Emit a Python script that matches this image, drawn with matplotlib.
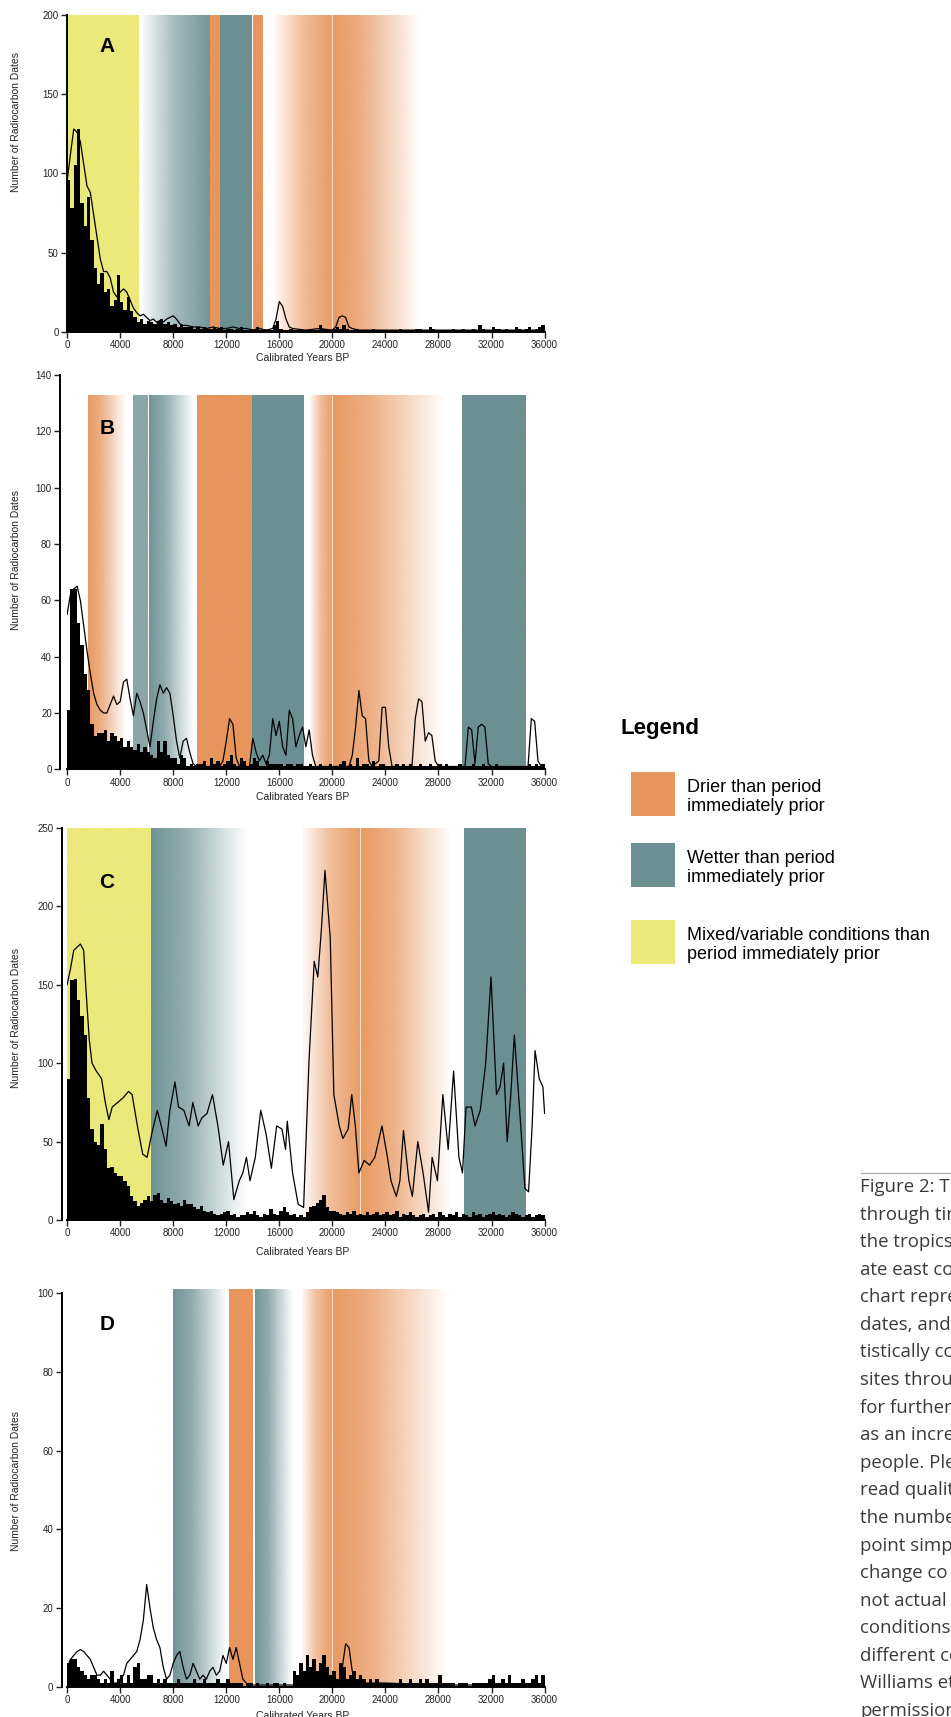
import numpy as np
import matplotlib
matplotlib.use('Agg')
import matplotlib.pyplot as plt
from matplotlib.colors import to_rgb
from matplotlib.patches import Rectangle
from matplotlib.lines import Line2D

plt.rcParams['font.family'] = ['Liberation Sans', 'DejaVu Sans']

# ---- data: 250-year bins, 0 - 36000 cal BP (16 bins per row = 4000 years)
bin_width = 250
bars_a = [96, 78, 105, 128, 81, 67, 85, 58, 40, 30, 37, 25, 27, 16, 20, 36,
          19, 14, 22, 13, 9, 6, 8, 5, 7, 6, 5, 7, 8, 5, 6, 4,
          5, 3, 4, 3, 3, 3, 2, 3, 2, 3, 2, 2, 3, 2, 3, 1,
          2, 2, 1, 2, 3, 1, 1, 2, 1, 3, 1, 2, 1, 1, 4, 7,
          2, 1, 1, 2, 1, 1, 1, 1, 1, 2, 1, 1, 4, 2, 2, 1,
          2, 3, 2, 4, 2, 1, 1, 2, 1, 1, 1, 1, 2, 1, 1, 1,
          1, 1, 1, 1, 2, 1, 1, 1, 1, 2, 2, 1, 1, 3, 2, 1,
          1, 1, 1, 1, 2, 1, 1, 2, 1, 1, 2, 1, 4, 2, 1, 1,
          3, 2, 2, 1, 2, 1, 1, 3, 2, 1, 2, 3, 1, 2, 3, 4]
bars_b = [21, 64, 64, 52, 44, 34, 28, 16, 12, 13, 13, 14, 10, 13, 12, 10,
          11, 8, 10, 8, 7, 9, 6, 8, 6, 5, 4, 10, 6, 10, 5, 4,
          4, 2, 5, 4, 1, 2, 1, 2, 2, 3, 1, 4, 2, 3, 1, 2,
          3, 5, 2, 1, 4, 3, 1, 2, 4, 3, 1, 1, 3, 2, 2, 2,
          2, 1, 2, 2, 1, 2, 2, 1, 1, 2, 1, 1, 2, 1, 1, 2,
          1, 1, 2, 3, 1, 2, 1, 4, 1, 2, 2, 1, 3, 1, 2, 2,
          1, 1, 1, 2, 1, 2, 1, 2, 1, 1, 2, 1, 1, 2, 1, 1,
          2, 1, 2, 1, 1, 1, 2, 1, 1, 1, 2, 1, 1, 2, 1, 1,
          1, 2, 1, 1, 1, 1, 1, 1, 1, 1, 1, 2, 1, 2, 1, 2]
bars_c = [90, 153, 154, 140, 130, 118, 78, 58, 50, 48, 61, 45, 33, 34, 30, 28,
          28, 25, 22, 15, 12, 9, 11, 13, 15, 12, 16, 17, 13, 11, 14, 12,
          10, 11, 9, 13, 10, 10, 8, 7, 9, 6, 5, 6, 4, 3, 4, 5,
          6, 3, 4, 2, 3, 3, 5, 4, 6, 3, 2, 4, 3, 7, 4, 3,
          6, 8, 5, 3, 4, 2, 3, 2, 5, 8, 9, 11, 13, 16, 8, 6,
          6, 5, 4, 3, 5, 4, 6, 3, 4, 3, 5, 3, 4, 5, 3, 4,
          5, 3, 4, 6, 2, 4, 3, 5, 3, 2, 3, 4, 2, 3, 4, 2,
          5, 3, 2, 4, 3, 5, 2, 4, 3, 2, 5, 3, 4, 2, 3, 4,
          5, 3, 4, 3, 2, 3, 5, 4, 3, 2, 3, 4, 2, 3, 4, 3]
bars_d = [6, 7, 7, 5, 4, 3, 2, 3, 3, 2, 1, 2, 1, 4, 1, 2,
          3, 1, 3, 1, 5, 6, 2, 2, 3, 3, 1, 2, 1, 2, 1, 1,
          1, 2, 1, 1, 1, 1, 2, 1, 1, 2, 1, 1, 1, 2, 1, 1,
          2, 1, 1, 1, 1, 0, 1, 1, 0, 1, 0, 0, 1, 0, 1, 1,
          0, 1, 0, 0, 4, 3, 6, 4, 8, 5, 7, 4, 6, 8, 5, 3,
          4, 2, 6, 5, 2, 3, 4, 2, 3, 2, 1, 2, 1, 2, 1, 1,
          1, 1, 1, 1, 2, 1, 1, 2, 1, 1, 2, 1, 2, 1, 1, 1,
          3, 1, 1, 1, 1, 0, 1, 1, 1, 0, 1, 1, 1, 1, 1, 2,
          3, 1, 1, 2, 1, 3, 1, 1, 1, 2, 1, 1, 2, 3, 1, 3]

# summed probability curves (year, value)
line_a_x = [0, 250, 500, 750, 1000, 1250, 1500, 1750, 2000, 2250, 2500, 2750, 3000, 3250, 3500,
            3750, 4000, 4250, 4500, 4750, 5000, 5250, 5500, 5750, 6000, 6250, 6500, 6750, 7000,
            7250, 7500, 7750, 8000, 8250, 8500, 8750, 9000, 9500, 10000, 10500, 11000, 11500,
            12000, 12500, 13000, 13500, 14000, 14500, 15000, 15500, 15750, 16000, 16250, 16500,
            16750, 17000, 18000, 19000, 20000, 20250, 20500, 20750, 21000, 21250, 21500, 22000,
            24000, 26000, 28000, 30000, 32000, 34000, 36000]
line_a_y = [95, 112, 128, 126, 120, 106, 92, 88, 74, 60, 46, 38, 38, 34, 25,
            22, 25, 27, 25, 20, 15, 12, 10, 11, 9, 7, 8, 6, 7,
            6, 8, 9, 10, 8, 5, 4, 4, 3, 3, 2, 3, 2,
            2, 3, 2, 2, 1, 2, 1, 2, 8, 19, 16, 8,
            3, 2, 1, 2, 1, 3, 9, 10, 9, 3, 2, 1,
            1, 1, 1, 1, 1, 1, 1]
line_b_x = [0, 250, 500, 750, 1000, 1250, 1500, 1750, 2000, 2250, 2500, 2750, 3000, 3250, 3500,
            3750, 4000, 4250, 4500, 4750, 5000, 5250, 5500, 5750, 6000, 6250, 6500, 6750, 7000,
            7250, 7500, 7750, 8000, 8250, 8500, 8750, 9000, 9250, 9500, 9750, 11500, 11750,
            12000, 12250, 12500, 12750, 13000, 13750, 14000, 14250, 14500, 14750, 15000, 15250,
            15500, 15750, 16000, 16250, 16500, 16750, 17000, 17250, 17500, 17750, 18000, 18250,
            18500, 18750, 21250, 21500, 21750, 22000, 22250, 22500, 22750, 23000, 23500, 23750,
            24000, 24250, 24500, 26000, 26250, 26500, 26750, 27000, 27250, 27500, 27750, 28000,
            30000, 30250, 30500, 30750, 31000, 31250, 31500, 31750, 32000, 34750, 35000, 35250,
            35500, 35750, 36000]
line_b_y = [55, 62, 64, 65, 60, 51, 42, 34, 27, 23, 21, 20, 20, 23, 26,
            23, 24, 31, 32, 25, 19, 27, 24, 20, 14, 8, 17, 25, 30,
            27, 29, 27, 19, 10, 4, 10, 11, 6, 2, 1, 1, 3,
            10, 18, 16, 4, 1, 1, 11, 6, 3, 5, 2, 5,
            18, 12, 17, 8, 5, 21, 18, 8, 12, 15, 8, 14,
            5, 1, 1, 5, 15, 28, 19, 18, 3, 1, 3, 22,
            22, 8, 1, 1, 18, 25, 24, 10, 13, 12, 3, 1,
            1, 15, 14, 2, 15, 16, 15, 2, 1, 1, 18, 17,
            3, 1, 1]
line_c_x = [0, 250, 500, 1000, 1250, 1400, 1670, 1880, 2200, 2450, 2600, 2880, 3150, 3400, 3820,
            4230, 4630, 4900, 5300, 5700, 6030, 6380, 6800, 7100, 7460, 7750, 8130, 8400, 8800,
            9200, 9480, 9880, 10150, 10550, 10960, 11370, 11770, 12170, 12570, 12980, 13250,
            13520, 13790, 14190, 14600, 15000, 15400, 15800, 16200, 16470, 16600, 17000, 17420,
            17830, 18230, 18630, 18900, 19170, 19440, 19840, 20110, 20520, 20790, 21190, 21460,
            21730, 22000, 22400, 22800, 23200, 23740, 24150, 24420, 24820, 25090, 25360, 25770,
            26030, 26440, 26840, 27250, 27520, 27920, 28330, 28730, 29140, 29540, 29810, 30080,
            30480, 30750, 31150, 31560, 31960, 32370, 32640, 32910, 33180, 33450, 33720, 34120,
            34520, 34790, 35060, 35280, 35600, 35870, 36000]
line_c_y = [150, 160, 172, 176, 172, 150, 115, 100, 95, 92, 90, 75, 64, 72, 75,
            78, 82, 80, 60, 42, 40, 55, 70, 60, 47, 70, 88, 72, 70,
            60, 75, 60, 65, 68, 80, 60, 35, 50, 13, 25, 30,
            40, 25, 40, 70, 55, 33, 60, 58, 45, 63, 30, 10,
            8, 100, 165, 155, 185, 223, 180, 80, 60, 52, 58, 80,
            60, 30, 38, 35, 40, 60, 40, 25, 15, 25, 57, 25,
            15, 50, 30, 5, 40, 25, 80, 45, 95, 40, 30, 72,
            72, 60, 70, 100, 155, 80, 85, 100, 50, 80, 118, 70,
            20, 18, 60, 108, 90, 85, 68]
line_d_x = [0, 250, 500, 750, 1000, 1250, 1500, 1750, 2000, 2250, 2500, 2750, 3000, 3250, 3500,
            3750, 4000, 4250, 4500, 4750, 5000, 5250, 5500, 5750, 6000, 6250, 6500, 6750, 7000,
            7250, 7500, 7750, 8000, 8250, 8500, 8750, 9000, 9250, 9500, 9750, 10000, 10250,
            10500, 10750, 11000, 11250, 11500, 11750, 12000, 12250, 12500, 12750, 13000, 13250,
            13500, 13750, 17500, 17750, 20500, 20750, 21000, 21250, 21500, 21750, 24000, 28000,
            36000]
line_d_y = [5, 7, 8, 9, 9.5, 9, 8, 7, 5, 3, 3, 4, 3, 2, 1,
            1, 2, 3, 6, 7, 8, 9, 12, 17, 26, 20, 15, 12, 10,
            5, 2, 3, 6, 8, 9, 5, 2, 3, 6, 4, 2, 3,
            2, 4, 5, 3, 4, 8, 6, 10, 7, 10, 6, 2,
            1, 0.5, 0.5, 1, 1, 5, 11, 10, 4, 1, 1, 0.5,
            0.5]

# climate bands: (start year, end year, colour, profile)
bands_a = [(0, 5400, 'yellow', 'solid'), (5700, 10700, 'teal', 'in'),
           (10750, 11480, 'orange', 'solid'), (11550, 13950, 'teal', 'solid'),
           (14000, 14750, 'orange', 'solid'), (15700, 20000, 'orange', 'in'),
           (20000, 26700, 'orange', 'out')]
bands_b = [(1600, 4400, 'orange', 'out'), (5000, 6100, 'teal', 'light'),
           (6150, 9500, 'teal', 'out'), (9800, 13930, 'orange', 'solid'),
           (13930, 17800, 'teal', 'solid'), (18300, 20000, 'orange', 'in'),
           (20000, 28500, 'orange', 'out'), (29750, 34550, 'teal', 'solid')]
bands_c = [(0, 6300, 'yellow', 'solid'), (6300, 13500, 'teal', 'out'),
           (17800, 22100, 'orange', 'in'), (22100, 28900, 'orange', 'out'),
           (29900, 34500, 'teal', 'solid')]
bands_d = [(7980, 12000, 'teal', 'out'), (12240, 14000, 'orange', 'solid'),
           (14160, 17000, 'teal', 'out'), (17700, 20000, 'orange', 'in'),
           (20000, 28700, 'orange', 'out')]

colors = {'orange': '#E8955C', 'teal': '#6C9092', 'yellow': '#EAE97A'}
profiles = {'solid': ([0, 1], [1, 1]),
            'light': ([0, 1], [0.8, 0.8]),
            'in': ([0, 0.45, 1], [0.05, 0.6, 0.95]),
            'out': ([0, 0.35, 1], [0.97, 0.75, 0])}

W, H = 951, 1717
fig = plt.figure(figsize=(W / 100, H / 100), dpi=100)


def fx(px):
    return px / W


def fy(py):
    return 1 - py / H


def draw_band(ax, x0, x1, top, cname, prof):
    fr = np.linspace(0, 1, 256)
    alpha = np.interp(fr, *profiles[prof])
    img = np.zeros((1, 256, 4))
    img[..., :3] = to_rgb(colors[cname])
    img[0, :, 3] = alpha
    ax.imshow(img, extent=(x0, x1, 0, top), aspect='auto',
              interpolation='bilinear', zorder=0)


# (bars, line x, line y, bands, band top, ylim, ytick step, y0 px, y1 px, letter y, ylabel y px, xlabel y px, spine offset)
panels = [
    (bars_a, line_a_x, line_a_y, bands_a, 200, 200, 50, 15, 331.7, 180, 122, 358, 0, 'A'),
    (bars_b, line_b_x, line_b_y, bands_b, 132.5, 140, 20, 375, 769.3, 121, 560, 797, 5, 'B'),
    (bars_c, line_c_x, line_c_y, bands_c, 250, 250, 50, 828, 1220, 215, 1018, 1252, 4, 'C'),
    (bars_d, line_d_x, line_d_y, bands_d, 101, 101, 20, 1289, 1687, 92, 1481, 1716, 4, 'D'),
]

x_left, x_right = 67.1, 544.6
edges = np.arange(0, 36000, bin_width)

for (bars, lx, ly, bands, btop, ytop, ystep, py0, py1, let_y,
     ylab_y, xlab_y, off, letter) in panels:
    ax = fig.add_axes([fx(x_left), fy(py1), fx(x_right - x_left), (py1 - py0) / H])
    for (b0, b1, cname, prof) in bands:
        draw_band(ax, b0, b1, btop, cname, prof)
    if letter != 'C':
        ax.axvline(20000, 0, btop / ytop, color='white', lw=0.8, alpha=0.7, zorder=1)
    else:
        ax.axvline(22100, 0, 1, color='white', lw=0.8, alpha=0.7, zorder=1)
    ax.bar(edges, bars, width=bin_width, align='edge', color='black', linewidth=0, zorder=2)
    ax.plot(lx, ly, color='black', lw=0.9, zorder=3)
    ax.text(3000, let_y, letter, fontsize=15, fontweight='bold', ha='center', va='center')

    ax.set_xlim(0, 36000)
    ax.set_ylim(0, ytop)
    ax.set_facecolor('none')
    for s in ['top', 'right']:
        ax.spines[s].set_visible(False)
    ax.spines['left'].set_position(('outward', off))
    ax.spines['left'].set_linewidth(1.4)
    ax.spines['bottom'].set_linewidth(1.4)
    top_tick = (ytop // ystep) * ystep
    ax.spines['left'].set_bounds(0, top_tick)
    ax.set_yticks(np.arange(0, top_tick + 1, ystep))
    ax.set_xticks(np.arange(0, 36001, 4000))
    ax.tick_params(direction='out', length=4, width=1, labelsize=7, pad=2, colors='#222222')

    fig.text(fx(16), fy(ylab_y), 'Number of Radiocarbon Dates', rotation=90,
             ha='center', va='center', fontsize=7.5, color='#222222')
    fig.text(fx(303), fy(xlab_y), 'Calibrated Years BP', ha='center', va='center',
             fontsize=7.5, color='#222222')

# legend
fig.text(fx(620), fy(728), 'Legend', fontsize=16, fontweight='bold', va='center', ha='left')
legend_items = [('orange', 'Drier than period\nimmediately prior', 772),
                ('teal', 'Wetter than period\nimmediately prior', 843),
                ('yellow', 'Mixed/variable conditions than\nperiod immediately prior', 920)]
for cname, label, ptop in legend_items:
    fig.add_artist(Rectangle((fx(631), fy(ptop + 44)), fx(44), 44 / H,
                             transform=fig.transFigure, facecolor=colors[cname],
                             edgecolor='none'))
    fig.text(fx(687), fy(ptop + 25), label, fontsize=13, va='center', ha='left',
             linespacing=1.2)

# caption, cut off at the right edge
fig.add_artist(Line2D([fx(861), 1.0], [fy(1173), fy(1173)], transform=fig.transFigure,
                      color='#b5b5b5', lw=1))
caption = ['Figure 2: The', 'through time', 'the tropics', 'ate east coast', 'chart repre',
           'dates, and', 'tistically co', 'sites through', 'for further', 'as an incre',
           'people. Ple', 'read qualit', 'the number', 'point simp', 'change co',
           'not actual', 'conditions', 'different co', 'Williams et', 'permission']
for i, line in enumerate(caption):
    fig.text(fx(860), fy(1187 + i * 27.58), line, fontsize=13.4, family='Open Sans',
             color='#3a3a3a', va='center', ha='left')

fig.savefig('out.png', dpi=100, facecolor='white')
